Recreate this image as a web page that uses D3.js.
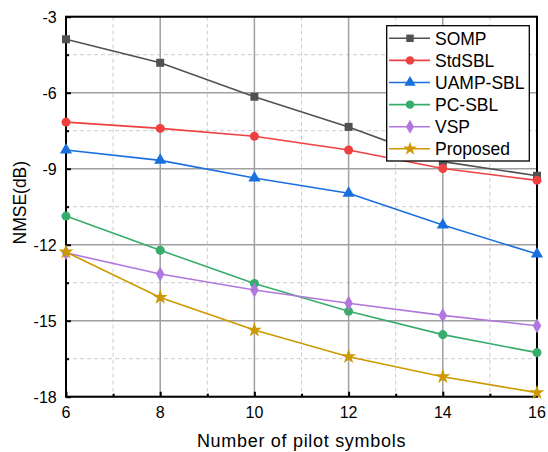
<!DOCTYPE html>
<html lang="en">
  <head>
    <meta charset="UTF-8" />
    <title>NMSE vs number of pilot symbols</title>
    <style>
      body { margin: 0; background: white; }
      svg { display: block; font-family: "Liberation Sans", Arial, sans-serif; }
    </style>
  </head>
  <body>
    <svg width="548" height="452"></svg>
    <script src="https://d3js.org/d3.v7.min.js"></script>
    <script>
      const pilots = [6, 8, 10, 12, 14, 16];
      const somp = [-3.89, -4.82, -6.16, -7.35, -8.72, -9.28];
      const stdSbl = [-7.16, -7.41, -7.72, -8.26, -8.99, -9.46];
      const uampSbl = [-8.26, -8.67, -9.37, -9.97, -11.22, -12.37];
      const pcSbl = [-10.87, -12.22, -13.53, -14.63, -15.55, -16.26];
      const vsp = [-12.32, -13.16, -13.79, -14.31, -14.79, -15.2];
      const proposed = [-12.29, -14.08, -15.37, -16.42, -17.21, -17.84];
      const yTicks = [-3, -6, -9, -12, -15, -18];

      const series = [
        { name: "SOMP", values: somp, color: "#515151", symbol: d3.symbolSquare },
        { name: "StdSBL", values: stdSbl, color: "#F14040", symbol: d3.symbolCircle },
        { name: "UAMP-SBL", values: uampSbl, color: "#1A6FDF", symbol: d3.symbolTriangle },
        { name: "PC-SBL", values: pcSbl, color: "#37AD6B", symbol: d3.symbolCircle },
        { name: "VSP", values: vsp, color: "#B177DE", symbol: d3.symbolDiamond },
        { name: "Proposed", values: proposed, color: "#CC9900", symbol: d3.symbolStar },
      ];

      const svg = d3.select("svg");
      const pLeft = 66, pRight = 537, pTop = 16.7, pBottom = 396.7;

      const x = d3.scaleLinear().domain([6, 16]).range([pLeft, pRight]);
      const y = d3.scaleLinear().domain([-18, -3]).range([pBottom, pTop]);

      // minor grid (dashed)
      const grid = svg.append("g");
      const minorX = d3.range(7, 16, 2);
      const minorY = d3.range(-16.5, -3, 3);
      grid.selectAll(".mx").data(minorX).join("line")
        .attr("x1", (d) => x(d)).attr("x2", (d) => x(d))
        .attr("y1", pTop).attr("y2", pBottom)
        .attr("stroke", "#cccccc").attr("stroke-dasharray", "4,3");
      grid.selectAll(".my").data(minorY).join("line")
        .attr("y1", (d) => y(d)).attr("y2", (d) => y(d))
        .attr("x1", pLeft).attr("x2", pRight)
        .attr("stroke", "#cccccc").attr("stroke-dasharray", "4,3");
      // major grid
      grid.selectAll(".gx").data(pilots).join("line")
        .attr("x1", (d) => x(d)).attr("x2", (d) => x(d))
        .attr("y1", pTop).attr("y2", pBottom)
        .attr("stroke", "#a0a0a0").attr("stroke-width", 1.5);
      grid.selectAll(".gy").data(yTicks).join("line")
        .attr("y1", (d) => y(d)).attr("y2", (d) => y(d))
        .attr("x1", pLeft).attr("x2", pRight)
        .attr("stroke", "#a0a0a0").attr("stroke-width", 1.5);

      // axes with inward ticks
      svg.append("g").attr("transform", `translate(0,${pBottom})`)
        .call(d3.axisTop(x).tickValues(pilots).tickSize(5).tickFormat(""));
      svg.append("g").attr("transform", `translate(0,${pBottom})`)
        .call(d3.axisTop(x).tickValues(minorX).tickSize(3).tickFormat(""));
      svg.append("g").attr("transform", `translate(${pLeft},0)`)
        .call(d3.axisRight(y).tickValues(yTicks).tickSize(5).tickFormat(""));
      svg.append("g").attr("transform", `translate(${pLeft},0)`)
        .call(d3.axisRight(y).tickValues(minorY).tickSize(3).tickFormat(""));
      svg.selectAll(".domain").remove();
      svg.selectAll(".tick line").attr("stroke", "#000").attr("stroke-width", 2);

      // tick labels
      svg.append("g").selectAll("text").data(pilots).join("text")
        .attr("x", (d) => x(d)).attr("y", pBottom + 21.6)
        .attr("text-anchor", "middle").attr("font-size", 16)
        .text((d) => d);
      svg.append("g").selectAll("text").data(yTicks).join("text")
        .attr("x", pLeft - 9.3).attr("y", (d) => y(d) + 6)
        .attr("text-anchor", "end").attr("font-size", 16)
        .text((d) => d);

      // frame
      svg.append("rect")
        .attr("x", pLeft).attr("y", pTop)
        .attr("width", pRight - pLeft).attr("height", pBottom - pTop)
        .attr("fill", "none").attr("stroke", "#000").attr("stroke-width", 2);

      // series
      const line = d3.line().x((d, i) => x(pilots[i])).y((d) => y(d));
      series.forEach((s) => {
        svg.append("path")
          .datum(s.values)
          .attr("d", line)
          .attr("fill", "none")
          .attr("stroke", s.color)
          .attr("stroke-width", 1.6);
        svg.append("g").selectAll("path").data(s.values).join("path")
          .attr("transform", (d, i) => `translate(${x(pilots[i])},${y(d)})`)
          .attr("d", d3.symbol().type(s.symbol).size(s.symbol === d3.symbolStar ? 70 : 64))
          .attr("fill", s.color);
      });

      // axis titles
      svg.append("text")
        .attr("x", (pLeft + pRight) / 2).attr("y", 447.3)
        .attr("text-anchor", "middle").attr("font-size", 18)
        .attr("letter-spacing", 0.7)
        .text("Number of pilot symbols");
      svg.append("text")
        .attr("transform", `translate(25.5,${(pTop + pBottom) / 2 - 4}) rotate(-90)`)
        .attr("text-anchor", "middle").attr("font-size", 17.5)
        .text("NMSE(dB)");

      // legend
      const legend = svg.append("g");
      legend.append("rect")
        .attr("x", 386.7).attr("y", 25.7).attr("width", 142.6).attr("height", 135.3)
        .attr("fill", "white").attr("stroke", "#000").attr("stroke-width", 1.3);
      series.forEach((s, i) => {
        const cy = 38.3 + i * 22.1;
        legend.append("line")
          .attr("x1", 389).attr("x2", 430).attr("y1", cy).attr("y2", cy)
          .attr("stroke", s.color).attr("stroke-width", 1.6);
        legend.append("path")
          .attr("transform", `translate(410,${cy})`)
          .attr("d", d3.symbol().type(s.symbol).size(s.symbol === d3.symbolStar ? 60 : 56))
          .attr("fill", s.color);
        legend.append("text")
          .attr("x", 435).attr("y", cy + 6.3).attr("font-size", 17.5)
          .text(s.name);
      });
    </script>
  </body>
</html>
